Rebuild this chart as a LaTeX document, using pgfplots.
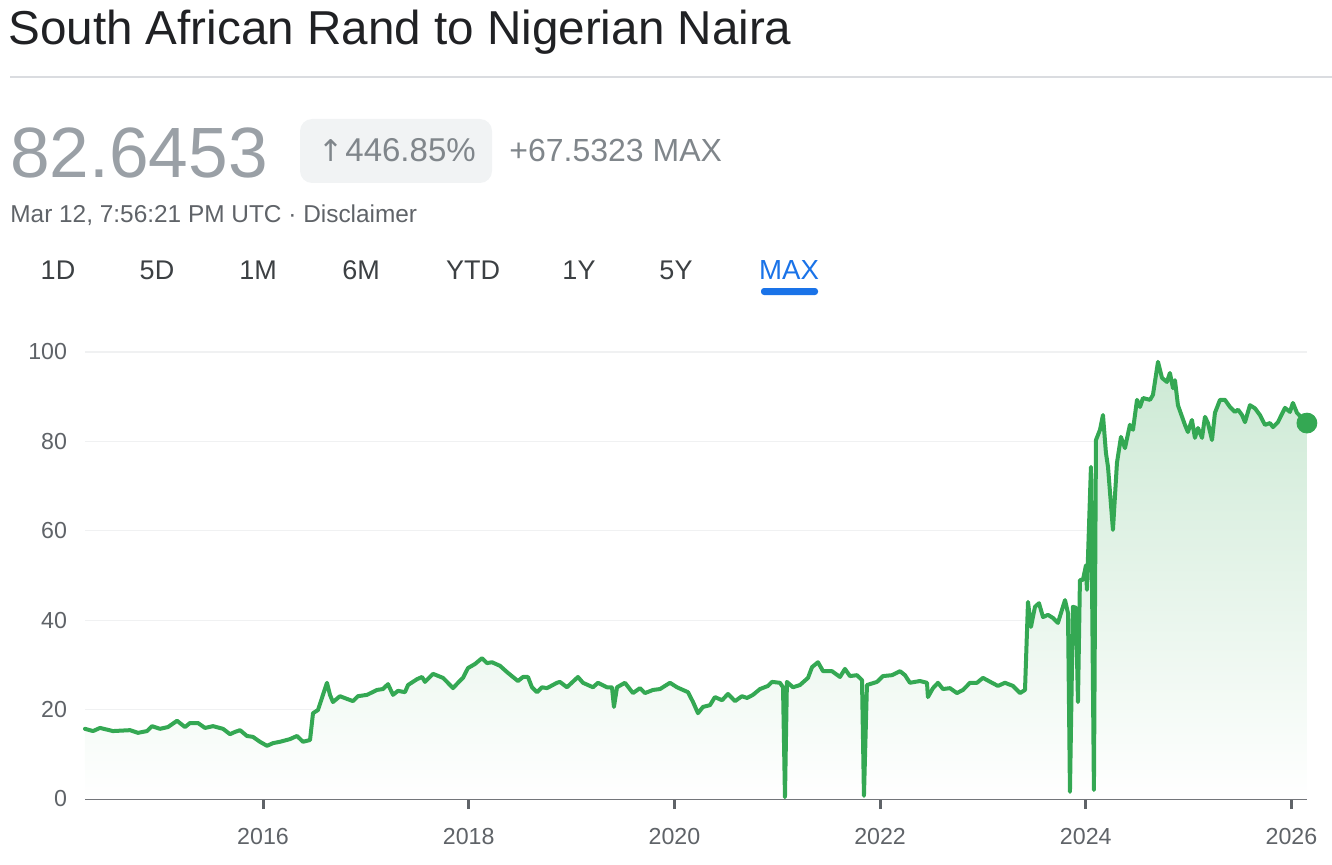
\documentclass[border=0pt]{standalone}
\usepackage{pgfplots}
\pgfplotsset{compat=1.18}
\usepackage{pgfplotstable}
\usepackage{fontspec}
\setmainfont{Liberation Sans}
\newfontfamily\symfont{DejaVu Sans}
\definecolor{gline}{RGB}{52,168,83}
\definecolor{gfill}{RGB}{204,233,212}
\definecolor{titlec}{RGB}{32,33,36}
\definecolor{bigc}{RGB}{154,160,166}
\definecolor{badgec}{RGB}{128,134,139}
\definecolor{badgebg}{RGB}{241,243,244}
\definecolor{datec}{RGB}{95,99,104}
\definecolor{tabc}{RGB}{60,64,67}
\definecolor{gblue}{RGB}{26,115,232}
\definecolor{sepc}{RGB}{218,220,224}
\definecolor{gridc}{RGB}{240,241,242}
\definecolor{axisc}{RGB}{95,99,104}

\pgfplotstableread{
x y
2014.269 15.7
2014.347 15.2
2014.415 15.9
2014.541 15.2
2014.707 15.4
2014.784 14.8
2014.872 15.2
2014.920 16.3
2014.998 15.7
2015.076 16.1
2015.164 17.5
2015.241 16.1
2015.290 17.0
2015.368 17.0
2015.436 15.9
2015.514 16.3
2015.611 15.7
2015.679 14.5
2015.727 15.0
2015.776 15.4
2015.844 14.1
2015.902 13.9
2015.970 12.8
2016.039 11.9
2016.097 12.5
2016.165 12.8
2016.262 13.4
2016.330 14.1
2016.389 12.8
2016.457 13.2
2016.486 19.2
2016.534 19.9
2016.583 23.3
2016.622 26.0
2016.651 23.3
2016.680 21.7
2016.748 23.0
2016.816 22.4
2016.875 21.9
2016.923 23.0
2017.011 23.3
2017.108 24.4
2017.166 24.6
2017.215 25.7
2017.264 23.3
2017.312 24.2
2017.380 23.9
2017.410 25.5
2017.497 26.8
2017.546 27.3
2017.575 26.2
2017.653 28.0
2017.750 27.1
2017.789 26.2
2017.847 24.8
2017.896 26.0
2017.944 27.1
2017.993 29.3
2018.061 30.2
2018.129 31.5
2018.178 30.4
2018.226 30.6
2018.304 29.8
2018.372 28.4
2018.430 27.3
2018.479 26.4
2018.528 27.3
2018.576 27.3
2018.615 25.0
2018.664 23.9
2018.712 25.0
2018.761 24.8
2018.858 26.0
2018.887 26.2
2018.955 25.0
2019.062 27.3
2019.111 26.0
2019.208 25.0
2019.257 26.0
2019.344 25.0
2019.393 25.0
2019.412 20.6
2019.442 25.0
2019.519 26.0
2019.597 23.7
2019.665 24.8
2019.714 23.7
2019.792 24.4
2019.860 24.6
2019.957 26.0
2020.025 25.0
2020.083 24.4
2020.132 23.9
2020.181 21.7
2020.229 19.2
2020.278 20.6
2020.346 21.0
2020.394 22.8
2020.463 22.1
2020.521 23.5
2020.589 21.9
2020.657 23.0
2020.706 22.6
2020.764 23.3
2020.832 24.6
2020.910 25.3
2020.949 26.2
2021.026 26.0
2021.056 25.0
2021.075 0.4
2021.094 26.2
2021.153 25.0
2021.221 25.5
2021.299 27.1
2021.338 29.5
2021.396 30.6
2021.445 28.6
2021.532 28.6
2021.610 27.3
2021.658 29.1
2021.707 27.5
2021.775 27.7
2021.824 26.6
2021.843 0.7
2021.872 25.5
2021.970 26.2
2022.028 27.5
2022.115 27.7
2022.193 28.6
2022.242 27.7
2022.290 26.0
2022.388 26.4
2022.456 26.0
2022.465 22.8
2022.514 24.8
2022.563 26.0
2022.611 24.6
2022.679 24.8
2022.747 23.7
2022.806 24.4
2022.874 26.0
2022.942 26.0
2023.000 27.1
2023.088 26.0
2023.146 25.3
2023.214 26.0
2023.292 25.3
2023.360 23.7
2023.409 24.4
2023.438 44.1
2023.467 38.5
2023.506 43.0
2023.545 43.8
2023.584 40.7
2023.632 41.2
2023.681 40.5
2023.729 39.4
2023.798 44.5
2023.827 41.6
2023.846 1.6
2023.875 43.0
2023.904 42.8
2023.924 21.7
2023.943 49.0
2023.972 49.0
2024.002 52.3
2024.011 46.8
2024.050 74.3
2024.079 2.0
2024.099 80.3
2024.138 82.6
2024.167 85.9
2024.196 77.4
2024.216 74.3
2024.264 60.2
2024.303 75.2
2024.342 81.0
2024.381 78.5
2024.429 83.7
2024.459 82.6
2024.498 89.3
2024.527 87.7
2024.556 89.7
2024.624 89.3
2024.653 90.4
2024.702 97.8
2024.741 94.2
2024.789 93.3
2024.818 95.3
2024.848 91.9
2024.867 93.7
2024.896 88.1
2024.964 83.7
2024.993 82.1
2025.032 84.8
2025.061 80.8
2025.091 83.0
2025.130 80.8
2025.159 85.5
2025.188 84.1
2025.227 80.3
2025.256 86.4
2025.305 89.3
2025.353 89.3
2025.402 87.7
2025.450 86.6
2025.480 87.1
2025.519 85.9
2025.548 84.3
2025.596 88.1
2025.645 87.4
2025.693 85.9
2025.742 83.7
2025.791 84.1
2025.820 83.2
2025.868 84.3
2025.937 87.5
2025.985 86.6
2026.014 88.6
2026.053 86.4
2026.150 84.1
}\ratedata

\pgfplotstableread{
x y
2026.150 84.1
}\lastpoint

\begin{document}
\begin{tikzpicture}[x=0.5pt,y=0.5pt]
\useasboundingbox (0,0) rectangle (1332,864);
% header
\node[anchor=base west, inner sep=0, text=titlec, font=\fontsize{23.8}{28}\selectfont] at (8,819) {South African Rand to Nigerian Naira};
\draw[sepc, line width=0.75pt] (10,787) -- (1332,787);
\node[anchor=base west, inner sep=0, text=bigc, font=\fontsize{35.6}{40}\selectfont] at (10,686) {82.6453};
\fill[badgebg, rounded corners=6pt] (300,681) rectangle (492,745);
\node[anchor=base, inner sep=0, text=badgec, font=\fontsize{16.5}{19}\selectfont] at (397,702) {{\symfont\fontsize{15}{19}\selectfont ↑}\kern1pt 446.85\%};
\node[anchor=base west, inner sep=0, text=badgec, font=\fontsize{16}{19}\selectfont] at (509,702) {+67.5323 MAX};
\node[anchor=base west, inner sep=0, text=datec, font=\fontsize{12.2}{14}\selectfont] at (10,641) {Mar 12, 7:56:21 PM UTC · Disclaimer};
% tabs
\foreach \lab/\cx in {1D/58,5D/157,1M/258,6M/361,YTD/473,1Y/579,5Y/676}{
  \node[anchor=base, inner sep=0, text=tabc, font=\fontsize{13.5}{16}\selectfont] at (\cx,585) {\lab};
}
\node[anchor=base, inner sep=0, text=gblue, font=\fontsize{13.8}{16}\selectfont] at (789,585) {MAX};
\fill[gblue, rounded corners=1.5pt] (761,569) rectangle (818,576);
% chart
\begin{axis}[
  at={(42.5pt,32.5pt)}, anchor=south west,
  scale only axis, width=611pt, height=223.5pt,
  xmin=2014.269, xmax=2026.151, ymin=0, ymax=100,
  clip=false,
  separate axis lines,
  axis x line*=bottom, axis y line*=left,
  y axis line style={draw=none},
  x axis line style={draw=axisc, line width=1.2pt},
  xtick={2016,2018,2020,2022,2024,2026},
  xticklabels={2016,2018,2020,2022,2024,2026},
  ytick={0,20,40,60,80,100},
  yticklabels={0,20,40,60,80,100},
  /pgf/number format/assume math mode=true,
  tick align=outside, major tick length=5pt,
  xtick style={draw=axisc, line width=1.5pt},
  ytick style={draw=none},
  ymajorgrids, grid style={draw=gridc, line width=0.6pt},
  x tick label style={font=\fontsize{11.6}{13}\selectfont, text=datec, yshift=-6pt},
  y tick label style={font=\fontsize{11.6}{13}\selectfont, text=datec, xshift=-0.5pt},
]
\addplot[draw=none, top color=gfill, bottom color=white, forget plot] table[x=x,y=y] {\ratedata} \closedcycle;
\addplot[gline, line width=2pt, line join=round, line cap=round, mark=none] table[x=x,y=y] {\ratedata};
\addplot[only marks, mark=*, mark size=5pt, gline, mark options={draw=gline, fill=gline}] table[x=x,y=y] {\lastpoint};
\end{axis}
\end{tikzpicture}
\end{document}
